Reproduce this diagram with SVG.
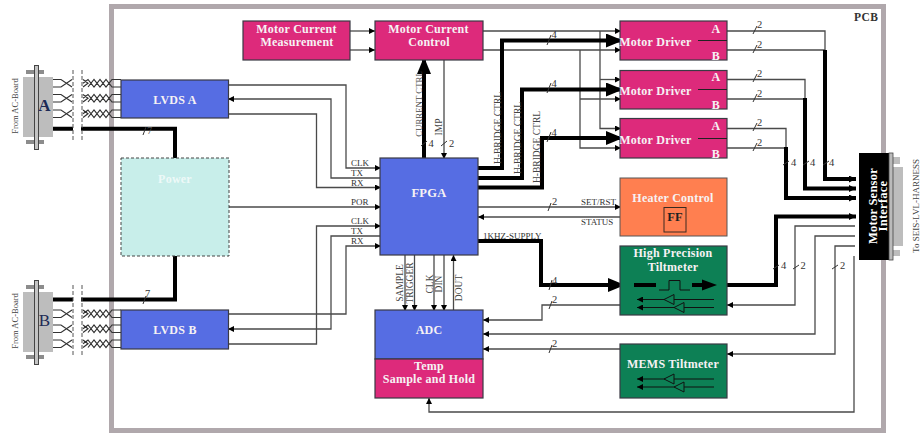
<svg xmlns="http://www.w3.org/2000/svg" xmlns:xlink="http://www.w3.org/1999/xlink" width="924" height="433" viewBox="0 0 924 433">
<style>
text{font-family:"Liberation Serif","Times New Roman",serif;fill:#333}
.b{font-weight:bold;font-size:12px;fill:#f6f2f4;text-anchor:middle;letter-spacing:.25px}
.s{font-size:9px;fill:#333}
.r{font-size:9.5px;fill:#444;text-anchor:middle}
.n{font-size:10.5px;fill:#333}
.box{stroke:#3a3a44;stroke-width:1.2}
.pink{fill:#dd2a7b}.blue{fill:#566de3}.green{fill:#0d8055}
.l{fill:none;stroke:#4a4a4a;stroke-width:1.3}
.k{fill:none;stroke:#111;stroke-width:1.2}
.t{fill:none;stroke:#000;stroke-width:4}
.sl{fill:none;stroke:#333;stroke-width:1}
.w{fill:none;stroke:#333;stroke-width:1.2}
.g{fill:#bdbdbd}
.fl{fill:#c4c4c4;stroke:#444;stroke-width:1}
.tab{fill:#8c8c8c}
.d{fill:none;stroke:#555;stroke-width:1;stroke-dasharray:4 2}
.c{font-size:17px;fill:#1c2a55;text-anchor:middle}
</style>
<defs>
<marker id="a" markerUnits="userSpaceOnUse" markerWidth="7" markerHeight="6" refX="6" refY="3" orient="auto"><path d="M0 0L6 3L0 6z" fill="#000"/></marker>
<marker id="h" markerUnits="userSpaceOnUse" markerWidth="18" markerHeight="14" refX="17" refY="7" orient="auto"><path d="M0 0L17 7L0 14z" fill="#000"/></marker>
<marker id="m" markerUnits="userSpaceOnUse" markerWidth="8" markerHeight="7" refX="7" refY="3.5" orient="auto"><path d="M0 0L7 3.5L0 7z" fill="#000"/></marker>
<g id="tw1"><path class="w" d="M53 0H61L72 7.500M53 7.500H61L72 0M83 0L88 3.700L83 7.500M83 3.700L88 0L94 7.500L100 0L106 7.500L112 0H121M88 7.500L94 0L100 7.500L106 0L112 7.500H121"/></g>
<g id="tri"><path d="M714 0H637" class="k" marker-end="url(#a)"/><path d="M714 8H637" class="k" marker-end="url(#a)"/><path d="M674 -5L664 0L674 5zM684 3L674 8L684 13z" fill="#0d8055" stroke="#111" stroke-width="1"/></g>
</defs>

<rect x="111.500" y="6.500" width="772" height="424" fill="#fff" stroke="#b0a8ac" stroke-width="5"/>
<text x="854" y="21" style="font-weight:bold;font-size:11.5px;letter-spacing:.5px">PCB</text>

<g id="connectors">
<path class="l" d="M350 31H375" marker-end="url(#a)"/>
<path class="l" d="M350 50H375" marker-end="url(#a)"/>
<path class="l" d="M483 31H621" marker-end="url(#a)"/>
<path class="l" d="M483 50H621" marker-end="url(#a)"/>
<path class="l" d="M600 31V128.500H621" marker-end="url(#a)"/>
<path class="l" d="M600 79.500H621" marker-end="url(#a)"/>
<path class="l" d="M580 50V148H621" marker-end="url(#a)"/>
<path class="l" d="M580 99H621" marker-end="url(#a)"/>
<path class="t" d="M478 168H502V40.500H623" marker-end="url(#h)"/>
<path class="t" d="M478 178H522V89.500H623" marker-end="url(#h)"/>
<path class="t" d="M478 187.500H542V138H623" marker-end="url(#h)"/>
<path class="t" d="M424 158V57" marker-end="url(#h)"/>
<path class="l" d="M444 60V159" marker-end="url(#a)"/>

<path class="l" d="M727 31H825V50"/><path class="l" d="M727 50H825"/>
<path class="l" d="M727 79.500H805V99"/><path class="l" d="M727 99H805"/>
<path class="l" d="M727 128.500H786V148"/><path class="l" d="M727 148H786"/>
<path class="t" d="M825 50V179H856" marker-end="url(#m)"/>
<path class="t" d="M805 98V188.500H856" marker-end="url(#m)"/>
<path class="t" d="M786 147V198H856" marker-end="url(#m)"/>
<path class="t" d="M727 285H776V216.500H856" marker-end="url(#m)"/>
<path class="l" d="M855 226H795V305H727" marker-end="url(#a)"/>
<path class="l" d="M855 236H815V334H483" marker-end="url(#a)"/>
<path class="l" d="M855 246H835V354H727" marker-end="url(#a)"/>
<path class="l" d="M854 256V412H429V398" marker-end="url(#a)"/>
<path class="l" d="M620 305H542V320H483" marker-end="url(#a)"/>
<path class="l" d="M620 349H483" marker-end="url(#a)"/>

<path class="l" d="M228 85H346V168H381" marker-end="url(#a)"/>
<path class="l" d="M380 178H331V99H228" marker-end="url(#a)"/>
<path class="l" d="M228 114H316.500V187.500H381" marker-end="url(#a)"/>
<path class="l" d="M229 207H381" marker-end="url(#a)"/>
<path class="l" d="M228 344H316.500V226H381" marker-end="url(#a)"/>
<path class="l" d="M380 236H331V329H228" marker-end="url(#a)"/>
<path class="l" d="M228 314H346V246H381" marker-end="url(#a)"/>

<path class="l" d="M405 255V311" marker-end="url(#a)"/>
<path class="l" d="M414.500 255V311" marker-end="url(#a)"/>
<path class="l" d="M434 255V311" marker-end="url(#a)"/>
<path class="l" d="M444 255V311" marker-end="url(#a)"/>
<path class="l" d="M453.500 310V255" marker-end="url(#a)"/>

<path class="l" d="M478 207H621" marker-end="url(#a)"/>
<path class="l" d="M620 217H478" marker-end="url(#a)"/>
<path class="t" d="M478 241H541V285H625" marker-end="url(#h)"/>

<path class="t" d="M52 128.700H73M81 128.700H175V158"/>
<path class="t" d="M52 299.500H73M81 299.500H175V256"/>

<path class="sl" d="M143 135L146 127M143 304L146 296"/>
<path class="sl" d="M421 146L427 141M441 146L447 141"/>
<path class="sl" d="M547 45L551 35M547 93L551 83M547 142L551 132"/>
<path class="sl" d="M753 34L757 26M753 53L757 45M753 82L757 74M753 102L757 94M753 131L757 123M753 151L757 143"/>
<path class="sl" d="M783 165L789 161M803 165L809 161M823 165L829 161"/>
<path class="sl" d="M773 269L779 265M793 269L799 265M832 269L838 265"/>
<path class="sl" d="M548 211L551 203M549 290L552 280M549 309L552 301M549 353L552 345"/>
</g>

<g id="labels">
<text class="n" x="147" y="134" style="fill:#555">7</text>
<text class="n" x="145" y="297">7</text>
<text class="n" x="428.500" y="147">4</text>
<text class="n" x="449" y="147">2</text>
<text class="n" x="551.500" y="38">4</text>
<text class="n" x="551.500" y="87">4</text>
<text class="n" x="551.500" y="136">4</text>
<text class="n" x="757" y="28">2</text>
<text class="n" x="757" y="48">2</text>
<text class="n" x="757" y="77">2</text>
<text class="n" x="757" y="97">2</text>
<text class="n" x="757" y="126">2</text>
<text class="n" x="757" y="146">2</text>
<text class="n" x="791" y="166">4</text>
<text class="n" x="810" y="166">4</text>
<text class="n" x="829" y="166">4</text>
<text class="n" x="781" y="269">4</text>
<text class="n" x="800.500" y="269">2</text>
<text class="n" x="840" y="269">2</text>
<text class="n" x="552" y="205">2</text>
<text class="n" x="552" y="284">4</text>
<text class="n" x="552" y="303">2</text>
<text class="n" x="552" y="347">2</text>
<text class="s" x="351" y="166">CLK</text>
<text class="s" x="351" y="176">TX</text>
<text class="s" x="351" y="185.500">RX</text>
<text class="s" x="351" y="205">POR</text>
<text class="s" x="351" y="224">CLK</text>
<text class="s" x="351" y="234">TX</text>
<text class="s" x="351" y="244">RX</text>
<text class="s" x="581" y="205">SET/RST</text>
<text class="s" x="581" y="225">STATUS</text>
<text class="s" x="483" y="239">1KHZ-SUPPLY</text>
<text class="r" transform="translate(419 104) rotate(-90)" y="3" style="font-size:8.800px">CURRENT CTRL</text>
<text class="r" transform="translate(439 127) rotate(-90)" y="3">IMP</text>
<text class="r" transform="translate(498 128) rotate(-90)" y="3">H-BRIDGE CTRL</text>
<text class="r" transform="translate(518 138) rotate(-90)" y="3">H-BRIDGE CTRL</text>
<text class="r" transform="translate(537 147) rotate(-90)" y="3">H-BRIDGE CTRL</text>
<text class="r" transform="translate(400 283) rotate(-90)" y="3">SAMPLE</text>
<text class="r" transform="translate(410 283) rotate(-90)" y="3">TRIGGER</text>
<text class="r" transform="translate(430 284) rotate(-90)" y="3">CLK</text>
<text class="r" transform="translate(439 284) rotate(-90)" y="3">DIN</text>
<text class="r" transform="translate(459 288) rotate(-90)" y="3">DOUT</text>
<text class="r" transform="translate(15 106) rotate(-90)" y="3" style="font-size:8.500px">From AC-Board</text>
<text class="r" transform="translate(15 321) rotate(-90)" y="3" style="font-size:8.500px">From AC-Board</text>
<text class="r" transform="translate(916 206) rotate(-90)" y="3" style="font-size:9px">To SEIS-LVL-HARNESS</text>
</g>

<g id="conn-a">
<path class="tab" d="M26 70H44V74H26zM26 140H44V144H26z"/>
<rect class="g" x="23" y="77" width="30" height="60"/>
<rect class="fl" x="34.500" y="65.500" width="4" height="84"/>
<use xlink:href="#tw1" href="#tw1" y="79.500"/><use xlink:href="#tw1" href="#tw1" y="94.500"/><use xlink:href="#tw1" href="#tw1" y="110"/>
<path class="d" d="M73 70V142M82 70V142"/>
<text class="c" x="44.500" y="111" style="font-weight:bold">A</text>
</g>
<g id="conn-b">
<path class="tab" d="M26 285H44V289H26zM26 355H44V359H26z"/>
<rect class="g" x="23" y="292" width="30" height="60"/>
<rect class="fl" x="34.500" y="280.500" width="4" height="84"/>
<use xlink:href="#tw1" href="#tw1" y="310"/><use xlink:href="#tw1" href="#tw1" y="325"/><use xlink:href="#tw1" href="#tw1" y="340"/>
<path class="d" d="M73 285V357M82 285V357"/>
<text class="c" x="44.500" y="326">B</text>
</g>

<g id="lvds-a"><rect class="box blue" x="121" y="80" width="107.500" height="38"/><text class="b" x="175" y="104">LVDS A</text></g>
<g id="lvds-b"><rect class="box blue" x="121" y="310" width="107.500" height="39"/><text class="b" x="175" y="334">LVDS B</text></g>
<g id="power"><rect x="121" y="158" width="108" height="98" fill="#c8eeea" stroke="#444" stroke-width="1" stroke-dasharray="3 2"/><text class="b" x="175" y="183" style="fill:#eef9f8">Power</text></g>
<g id="measure"><rect class="box pink" x="243" y="21" width="107" height="39"/><text class="b" x="296.500" y="33">Motor Current</text><text class="b" x="297" y="46">Measurement</text></g>
<g id="control"><rect class="box pink" x="375" y="21" width="108" height="39"/><text class="b" x="428.500" y="33">Motor Current</text><text class="b" x="429" y="46">Control</text></g>
<g id="driver-1"><rect class="box pink" x="620" y="21" width="107" height="39"/><path d="M698 40.500H727" stroke="#222" stroke-width="1"/><text class="b" x="655.500" y="46">Motor Driver</text><text class="b" x="716" y="33">A</text><text class="b" x="716" y="59.500">B</text></g>
<g id="driver-2"><rect class="box pink" x="620" y="70.500" width="107" height="38.500"/><path d="M698 89.500H727" stroke="#222" stroke-width="1"/><text class="b" x="655.500" y="95">Motor Driver</text><text class="b" x="716" y="81">A</text><text class="b" x="716" y="108.500">B</text></g>
<g id="driver-3"><rect class="box pink" x="620" y="118.500" width="107" height="39.500"/><path d="M698 138.500H727" stroke="#222" stroke-width="1"/><text class="b" x="655.500" y="144">Motor Driver</text><text class="b" x="716" y="130">A</text><text class="b" x="716" y="157.500">B</text></g>
<g id="fpga"><rect class="box blue" x="380" y="158" width="98" height="97"/><text class="b" x="429" y="197" style="font-size:12.500px">FPGA</text></g>
<g id="heater"><rect x="620" y="178" width="107" height="58" fill="#ff7f50" stroke="#555" stroke-width="1"/><text class="b" x="673" y="202">Heater Control</text><rect x="664" y="207.500" width="22" height="24.500" fill="none" stroke="#3a2a20" stroke-width="1"/><text x="675" y="221" text-anchor="middle" style="font-weight:bold;font-size:12.500px;fill:#222">FF</text></g>
<g id="hp-tilt"><rect class="box green" x="620" y="246" width="107" height="69"/><text class="b" x="673" y="257">High Precision</text><text class="b" x="673" y="271">Tiltmeter</text>
<path d="M634 285H656" stroke="#000" stroke-width="4"/><path d="M659 290H669V280.500H680V290H690" fill="none" stroke="#111" stroke-width="1"/><path d="M692 283H702V279.500L717 285L702 290.500V287H692z" fill="#000"/>
<use xlink:href="#tri" href="#tri" y="299.500"/></g>
<g id="mems"><rect class="box green" x="620" y="344" width="107" height="54"/><text class="b" x="673" y="368">MEMS Tiltmeter</text><use xlink:href="#tri" href="#tri" y="379"/></g>
<g id="adc"><rect class="box blue" x="375" y="310" width="108" height="49"/><text class="b" x="429" y="334">ADC</text></g>
<g id="temp"><rect class="box pink" x="375" y="359" width="108" height="39"/><text class="b" x="429" y="370">Temp</text><text class="b" x="429" y="383">Sample and Hold</text></g>
<g id="msi">
<path class="g" d="M893 167H903V246H893z"/><path class="g" d="M893 157H900V164H893zM893 250H900V256H893z"/>
<rect x="859" y="153" width="30" height="107" fill="#000"/><rect x="889" y="153" width="4" height="107" fill="#bbb" stroke="#444" stroke-width=".8"/>
<g transform="translate(874 206) rotate(-90)"><text class="b" y="3" style="fill:#fff;font-size:12.500px">Motor Sensor</text><text class="b" y="13" style="fill:#fff;font-size:12.500px">Interface</text></g>
</g>
</svg>
